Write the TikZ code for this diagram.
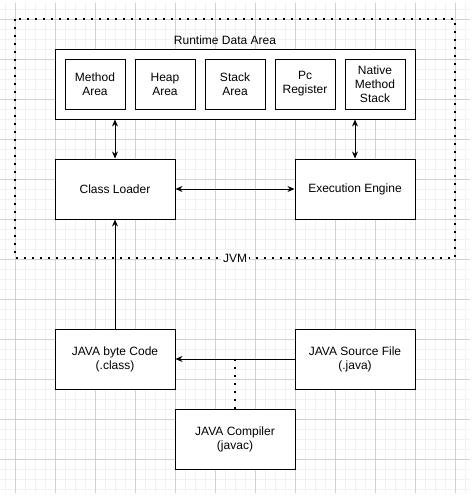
\documentclass[tikz,border=0pt]{standalone}
\usepackage{fontspec}
\setmainfont{Liberation Sans}
\usetikzlibrary{arrows.meta}

\tikzset{
    box/.style={draw, line width=1pt, fill=white, align=center, minimum width=120pt, minimum height=60pt, inner sep=0pt},
    area/.style={box, minimum width=60pt, minimum height=50pt},
    link/.style={line width=1pt, -{Stealth[length=7pt,width=6pt]}},
    twoway/.style={line width=1pt, {Stealth[length=7pt,width=6pt]}-{Stealth[length=7pt,width=6pt]}},
    dots/.style={line width=2pt, dash pattern=on 2pt off 6pt},
}

\begin{document}
\begin{tikzpicture}[x=1pt, y=-1pt, font=\fontsize{12}{14}\selectfont]
    \useasboundingbox (0,0) rectangle (475,498);
    \fill[white] (0,0) rectangle (475,498);

    % Grid
    \foreach \x in {5,15,...,465} \draw[black!5, line width=0.6pt] (\x,3) -- (\x,493);
    \foreach \y in {9,19,...,489} \draw[black!5, line width=0.6pt] (0,\y) -- (470,\y);
    \foreach \x in {15,55,...,455} \draw[black!18, line width=0.6pt] (\x,3) -- (\x,493);
    \foreach \y in {19,59,...,459} \draw[black!18, line width=0.6pt] (0,\y) -- (470,\y);

    % JVM
    \draw[dots] (15,19) rectangle (455,258);
    \node[fill=white, inner sep=2pt] (jvm) at (235,258) {JVM};

    % Runtime Data Area
    \node (rdalabel) at (225,40) {Runtime Data Area};
    \node[box, minimum width=360pt, minimum height=70pt] (rda) at (235,84) {};
    \node[area] (method) at (95,84) {Method\\Area};
    \node[area] (heap) at (165,84) {Heap\\Area};
    \node[area] (stack) at (235,84) {Stack\\Area};
    \node[area] (pc) at (305,84) {Pc\\Register};
    \node[area] (native) at (375,84) {Native\\Method\\Stack};

    \node[box] (loader) at (115,189) {Class Loader};
    \node[box] (engine) at (355,189) {Execution Engine};

    \draw[twoway] (rda.south -| loader.north) -- (loader.north);
    \draw[twoway] (rda.south -| engine.north) -- (engine.north);
    \draw[twoway] (loader.east) -- (engine.west);

    % Compile
    \node[box] (bytecode) at (115,359) {JAVA byte Code\\(.class)};
    \node[box] (source) at (355,359) {JAVA Source File\\(.java)};
    \node[box] (compiler) at (235,439) {JAVA Compiler\\(javac)};

    \draw[link] (source.west) -- (bytecode.east);
    \draw[dots] (compiler.north) -- (compiler.north |- source.west);
    \draw[link] (bytecode.north) -- (loader.south);

\end{tikzpicture}
\end{document}
